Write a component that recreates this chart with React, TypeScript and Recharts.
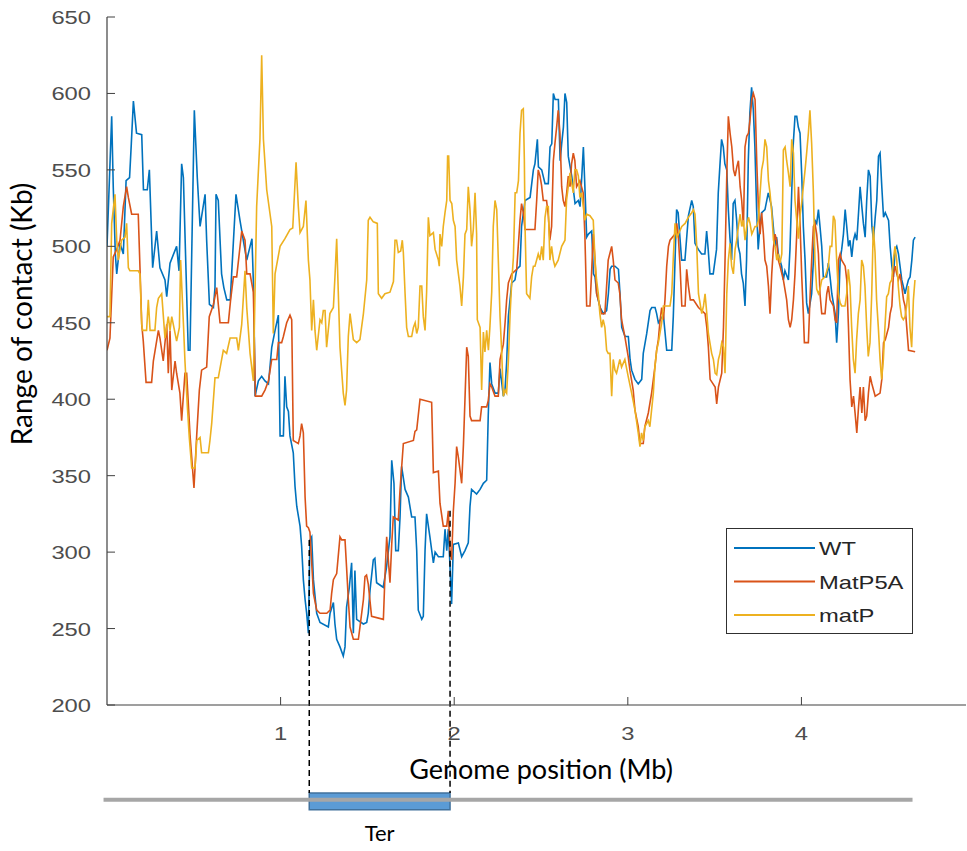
import React from 'react';
import { LineChart, Line, XAxis, YAxis, Legend, ReferenceLine, ReferenceArea } from 'recharts';

type Pt = [number, number];

// genome position (Mb), range of contact (Kb)
const wt: Pt[] = [
  [0.000, 500], [0.027, 585], [0.036, 539], [0.048, 495], [0.056, 482], [0.075, 502], [0.094, 495], [0.110, 543], [0.130, 545], [0.140, 567],
  [0.152, 595], [0.170, 574], [0.200, 573], [0.210, 537], [0.232, 537], [0.244, 550], [0.263, 486], [0.286, 510], [0.305, 486], [0.334, 478],
  [0.344, 467], [0.363, 489], [0.401, 500], [0.415, 484], [0.430, 554], [0.440, 545], [0.468, 432], [0.478, 432], [0.503, 589], [0.520, 545],
  [0.536, 513], [0.565, 534], [0.574, 504], [0.590, 462], [0.613, 460], [0.622, 473], [0.628, 534], [0.641, 530], [0.660, 482], [0.673, 473],
  [0.690, 465], [0.710, 465], [0.718, 482], [0.743, 534], [0.766, 517], [0.785, 504], [0.805, 491], [0.824, 500], [0.835, 505], [0.845, 470],
  [0.853, 402], [0.872, 412], [0.891, 415], [0.910, 412], [0.930, 410], [0.949, 434], [0.968, 445], [0.987, 455], [0.997, 376], [1.016, 376],
  [1.025, 415], [1.035, 395], [1.045, 392], [1.054, 376], [1.073, 365], [1.083, 343], [1.093, 330], [1.112, 317], [1.121, 304], [1.131, 282],
  [1.141, 269], [1.150, 260], [1.160, 247], [1.169, 308], [1.179, 310], [1.189, 282], [1.208, 260], [1.227, 254], [1.275, 251], [1.285, 260],
  [1.304, 267], [1.313, 253], [1.323, 243], [1.342, 238], [1.361, 232], [1.371, 238], [1.380, 264], [1.396, 277], [1.409, 293], [1.419, 247],
  [1.428, 288], [1.438, 256], [1.477, 253], [1.496, 254], [1.505, 260], [1.515, 275], [1.534, 295], [1.543, 296], [1.553, 280], [1.591, 277],
  [1.610, 290], [1.630, 310], [1.640, 360], [1.653, 345], [1.663, 301], [1.678, 301], [1.688, 323], [1.697, 356], [1.717, 341], [1.736, 336],
  [1.755, 323], [1.774, 323], [1.784, 301], [1.793, 262], [1.813, 256], [1.822, 258], [1.832, 301], [1.841, 325], [1.860, 310], [1.880, 293],
  [1.890, 300], [1.909, 297], [1.937, 297], [1.947, 315], [1.957, 301], [1.966, 315], [1.976, 290], [1.985, 266], [1.995, 305], [2.024, 306],
  [2.043, 297], [2.062, 301], [2.081, 306], [2.091, 330], [2.100, 341], [2.129, 338], [2.149, 341], [2.168, 345], [2.187, 347], [2.196, 389],
  [2.206, 424], [2.216, 410], [2.235, 404], [2.254, 404], [2.264, 420], [2.283, 402], [2.292, 405], [2.302, 424], [2.312, 454], [2.331, 476],
  [2.350, 478], [2.360, 485], [2.379, 487], [2.388, 513], [2.408, 530], [2.437, 532], [2.456, 550], [2.465, 554], [2.479, 570], [2.485, 552],
  [2.504, 550], [2.523, 541], [2.542, 541], [2.552, 565], [2.562, 567], [2.571, 600], [2.581, 596], [2.600, 596], [2.610, 556], [2.619, 567],
  [2.629, 578], [2.638, 600], [2.648, 594], [2.657, 559], [2.677, 546], [2.696, 528], [2.715, 530], [2.725, 526], [2.735, 546], [2.744, 565],
  [2.754, 535], [2.763, 506], [2.773, 508], [2.792, 510], [2.802, 482], [2.811, 480], [2.821, 469], [2.840, 460], [2.859, 456], [2.878, 458],
  [2.888, 469], [2.898, 485], [2.907, 487], [2.926, 487], [2.946, 485], [2.955, 469], [2.965, 447], [2.984, 441], [3.003, 441], [3.013, 426],
  [3.022, 419], [3.041, 413], [3.060, 410], [3.080, 413], [3.089, 430], [3.109, 443], [3.128, 458], [3.138, 460], [3.157, 460], [3.166, 456],
  [3.176, 450], [3.205, 455], [3.224, 432], [3.253, 432], [3.262, 454], [3.272, 491], [3.281, 524], [3.290, 522], [3.300, 506], [3.310, 491],
  [3.329, 491], [3.349, 520], [3.368, 530], [3.377, 526], [3.387, 502], [3.406, 498], [3.425, 495], [3.444, 495], [3.454, 510], [3.463, 498],
  [3.473, 482], [3.492, 482], [3.511, 498], [3.521, 535], [3.530, 552], [3.540, 570], [3.550, 565], [3.559, 554], [3.570, 550], [3.579, 524],
  [3.588, 506], [3.598, 491], [3.607, 528], [3.617, 530], [3.627, 517], [3.636, 500], [3.646, 495], [3.655, 482], [3.665, 476], [3.675, 461],
  [3.684, 491], [3.694, 556], [3.703, 587], [3.713, 604], [3.723, 589], [3.732, 565], [3.742, 524], [3.751, 498], [3.761, 513], [3.771, 522],
  [3.790, 524], [3.809, 535], [3.828, 526], [3.838, 513], [3.848, 500], [3.857, 506], [3.867, 495], [3.886, 487], [3.896, 478], [3.905, 484],
  [3.925, 478], [3.934, 498], [3.944, 535], [3.953, 567], [3.963, 585], [3.973, 585], [3.982, 578], [3.992, 574], [4.002, 546], [4.011, 513],
  [4.021, 491], [4.030, 463], [4.040, 456], [4.059, 469], [4.069, 491], [4.078, 517], [4.088, 515], [4.098, 524], [4.107, 513], [4.117, 500],
  [4.126, 480], [4.145, 480], [4.155, 489], [4.165, 480], [4.175, 469], [4.194, 456], [4.203, 437], [4.213, 456], [4.223, 491], [4.232, 498],
  [4.242, 508], [4.252, 524], [4.261, 513], [4.271, 500], [4.280, 504], [4.290, 493], [4.300, 504], [4.309, 508], [4.319, 504], [4.329, 522],
  [4.338, 539], [4.348, 526], [4.357, 515], [4.367, 506], [4.376, 530], [4.386, 550], [4.396, 546], [4.406, 513], [4.415, 504], [4.425, 519],
  [4.434, 530], [4.444, 559], [4.453, 561], [4.463, 539], [4.473, 519], [4.483, 522], [4.502, 517], [4.511, 500], [4.521, 487], [4.530, 480],
  [4.540, 498], [4.549, 500], [4.559, 495], [4.568, 487], [4.578, 478], [4.597, 469], [4.607, 474], [4.616, 478], [4.626, 480], [4.636, 491],
  [4.645, 504], [4.655, 506],
];

const matP5A: Pt[] = [
  [0.000, 432], [0.017, 440], [0.036, 493], [0.056, 498], [0.075, 504], [0.094, 526], [0.113, 539], [0.123, 532], [0.142, 521], [0.180, 521],
  [0.190, 486], [0.200, 449], [0.209, 438], [0.225, 411], [0.257, 411], [0.267, 425], [0.296, 445], [0.305, 440], [0.324, 425], [0.344, 449],
  [0.353, 417], [0.363, 445], [0.373, 406], [0.392, 425], [0.401, 417], [0.420, 404], [0.430, 386], [0.449, 417], [0.459, 417], [0.478, 377],
  [0.501, 342], [0.517, 377], [0.532, 406], [0.545, 419], [0.574, 421], [0.589, 454], [0.613, 462], [0.632, 473], [0.641, 462], [0.651, 450],
  [0.699, 450], [0.712, 465], [0.728, 480], [0.747, 480], [0.776, 510], [0.795, 504], [0.805, 482], [0.824, 482], [0.843, 470], [0.855, 402],
  [0.891, 402], [0.910, 406], [0.930, 412], [0.949, 426], [0.978, 426], [0.987, 437], [1.006, 437], [1.016, 441], [1.035, 450], [1.054, 455],
  [1.064, 452], [1.073, 373], [1.102, 371], [1.112, 376], [1.121, 384], [1.131, 378], [1.141, 336], [1.150, 317], [1.160, 316], [1.169, 313],
  [1.179, 293], [1.189, 273], [1.208, 262], [1.227, 260], [1.266, 260], [1.285, 262], [1.294, 273], [1.304, 282], [1.323, 286], [1.342, 310],
  [1.352, 308], [1.371, 308], [1.380, 290], [1.390, 269], [1.400, 251], [1.419, 243], [1.448, 243], [1.457, 251], [1.477, 269], [1.486, 284],
  [1.495, 285], [1.505, 279], [1.524, 258], [1.592, 256], [1.601, 284], [1.611, 310], [1.630, 280], [1.640, 305], [1.649, 323], [1.678, 321],
  [1.688, 341], [1.707, 371], [1.765, 373], [1.774, 379], [1.784, 380], [1.803, 400], [1.870, 398], [1.880, 352], [1.909, 353], [1.918, 332],
  [1.937, 317], [1.957, 317], [1.966, 327], [1.976, 300], [1.985, 295], [1.995, 327], [2.005, 345], [2.014, 369], [2.024, 362], [2.043, 345],
  [2.053, 370], [2.062, 400], [2.072, 434], [2.081, 428], [2.091, 389], [2.100, 386], [2.149, 386], [2.158, 395], [2.187, 395], [2.196, 399],
  [2.206, 410], [2.216, 408], [2.235, 402], [2.254, 402], [2.264, 426], [2.283, 436], [2.293, 450], [2.302, 465], [2.312, 476], [2.331, 482],
  [2.360, 485], [2.379, 517], [2.388, 528], [2.398, 522], [2.408, 511], [2.465, 511], [2.475, 530], [2.484, 550], [2.494, 546], [2.503, 540],
  [2.513, 530], [2.532, 530], [2.542, 520], [2.551, 504], [2.561, 513], [2.571, 556], [2.580, 567], [2.590, 578], [2.599, 589], [2.609, 574],
  [2.619, 539], [2.628, 530], [2.638, 526], [2.648, 535], [2.657, 546], [2.667, 539], [2.676, 554], [2.686, 561], [2.695, 556], [2.705, 539],
  [2.724, 543], [2.743, 535], [2.753, 506], [2.763, 461], [2.782, 461], [2.791, 482], [2.801, 508], [2.811, 491], [2.820, 469], [2.830, 465],
  [2.849, 456], [2.868, 456], [2.887, 491], [2.907, 500], [2.916, 491], [2.926, 478], [2.945, 476], [2.954, 469], [2.964, 452], [2.983, 441],
  [3.002, 428], [3.012, 419], [3.031, 406], [3.041, 393], [3.060, 382], [3.070, 371], [3.089, 371], [3.098, 382], [3.118, 391], [3.137, 404],
  [3.156, 421], [3.166, 432], [3.176, 439], [3.186, 452], [3.195, 460], [3.205, 452], [3.214, 465], [3.224, 487], [3.234, 500], [3.243, 504],
  [3.272, 508], [3.282, 515], [3.291, 506], [3.301, 487], [3.311, 461], [3.330, 461], [3.339, 485], [3.349, 474], [3.360, 465], [3.378, 465],
  [3.407, 460], [3.445, 456], [3.455, 447], [3.464, 434], [3.474, 413], [3.503, 408], [3.512, 397], [3.522, 408], [3.541, 417], [3.551, 447],
  [3.560, 491], [3.570, 546], [3.579, 585], [3.589, 574], [3.599, 565], [3.609, 550], [3.618, 546], [3.628, 552], [3.637, 556], [3.647, 539],
  [3.656, 530], [3.666, 513], [3.675, 565], [3.685, 572], [3.695, 574], [3.704, 583], [3.714, 596], [3.723, 600], [3.733, 596], [3.743, 554],
  [3.752, 526], [3.762, 508], [3.771, 522], [3.781, 508], [3.790, 491], [3.800, 487], [3.810, 474], [3.819, 456], [3.829, 482], [3.838, 498],
  [3.848, 508], [3.857, 504], [3.867, 491], [3.877, 487], [3.896, 478], [3.915, 465], [3.925, 452], [3.935, 447], [3.944, 452], [3.954, 465],
  [3.963, 482], [3.973, 508], [3.983, 539], [3.992, 515], [4.002, 480], [4.011, 456], [4.017, 437], [4.040, 437], [4.049, 465], [4.059, 491],
  [4.069, 513], [4.078, 515], [4.088, 508], [4.098, 495], [4.107, 469], [4.117, 456], [4.136, 456], [4.146, 469], [4.155, 474], [4.165, 465],
  [4.184, 461], [4.194, 452], [4.203, 450], [4.213, 491], [4.223, 495], [4.232, 491], [4.242, 489], [4.252, 487], [4.261, 478], [4.271, 447],
  [4.280, 413], [4.290, 395], [4.300, 402], [4.309, 391], [4.319, 378], [4.329, 395], [4.338, 408], [4.348, 391], [4.357, 408], [4.367, 386],
  [4.376, 389], [4.386, 404], [4.396, 415], [4.406, 410], [4.425, 402], [4.453, 404], [4.463, 413], [4.473, 437], [4.483, 439], [4.502, 447],
  [4.511, 456], [4.521, 461], [4.530, 482], [4.540, 487], [4.549, 482], [4.559, 478], [4.568, 482], [4.578, 474], [4.588, 465], [4.597, 461],
  [4.617, 432], [4.655, 431],
];

const matP: Pt[] = [
  [0.000, 454], [0.017, 454], [0.027, 515], [0.046, 534], [0.056, 504], [0.065, 491], [0.084, 504], [0.104, 506], [0.113, 515], [0.123, 486],
  [0.132, 484], [0.180, 484], [0.190, 482], [0.200, 449], [0.205, 445], [0.228, 445], [0.238, 465], [0.248, 445], [0.276, 445], [0.286, 460],
  [0.296, 466], [0.315, 469], [0.334, 440], [0.353, 454], [0.363, 445], [0.373, 454], [0.401, 438], [0.417, 447], [0.424, 491], [0.440, 450],
  [0.449, 425], [0.463, 395], [0.474, 375], [0.488, 355], [0.507, 355], [0.517, 373], [0.536, 375], [0.545, 365], [0.584, 365], [0.593, 373],
  [0.603, 384], [0.622, 414], [0.641, 414], [0.670, 432], [0.689, 430], [0.709, 440], [0.747, 440], [0.757, 432], [0.776, 449], [0.795, 484],
  [0.805, 460], [0.824, 430], [0.843, 412], [0.862, 526], [0.881, 570], [0.891, 625], [0.901, 570], [0.920, 537], [0.949, 513], [0.958, 443],
  [0.968, 482], [0.997, 500], [1.025, 505], [1.054, 511], [1.070, 512], [1.089, 555], [1.102, 526], [1.112, 509], [1.131, 513], [1.146, 530],
  [1.160, 491], [1.169, 478], [1.179, 445], [1.189, 465], [1.198, 445], [1.208, 432], [1.227, 452], [1.237, 450], [1.246, 458], [1.256, 458],
  [1.265, 434], [1.284, 456], [1.304, 460], [1.313, 480], [1.323, 505], [1.332, 471], [1.342, 434], [1.361, 404], [1.371, 396], [1.380, 406],
  [1.390, 441], [1.400, 456], [1.419, 439], [1.438, 437], [1.457, 439], [1.477, 456], [1.496, 478], [1.505, 517], [1.515, 519], [1.534, 516],
  [1.557, 515], [1.563, 469], [1.582, 466], [1.601, 469], [1.630, 470], [1.650, 477], [1.659, 504], [1.668, 504], [1.678, 496], [1.692, 497],
  [1.701, 504], [1.707, 496], [1.717, 469], [1.726, 447], [1.736, 441], [1.755, 441], [1.765, 447], [1.775, 450], [1.784, 443], [1.793, 447],
  [1.803, 474], [1.813, 474], [1.822, 454], [1.832, 445], [1.841, 470], [1.851, 519], [1.860, 507], [1.880, 509], [1.890, 498], [1.909, 491],
  [1.914, 487], [1.918, 508], [1.928, 500], [1.937, 513], [1.947, 522], [1.957, 530], [1.962, 559], [1.968, 559], [1.976, 530], [1.986, 528],
  [1.995, 517], [2.005, 513], [2.014, 491], [2.024, 482], [2.033, 474], [2.043, 461], [2.053, 480], [2.062, 508], [2.072, 511], [2.081, 539],
  [2.091, 524], [2.100, 500], [2.110, 511], [2.120, 535], [2.129, 508], [2.133, 452], [2.149, 447], [2.158, 406], [2.168, 444], [2.177, 431],
  [2.187, 445], [2.197, 432], [2.206, 448], [2.216, 470], [2.225, 513], [2.235, 530], [2.245, 524], [2.254, 491], [2.264, 454], [2.273, 432],
  [2.283, 402], [2.293, 406], [2.302, 404], [2.312, 425], [2.322, 456], [2.331, 476], [2.341, 493], [2.351, 535], [2.360, 535], [2.370, 543],
  [2.379, 574], [2.388, 589], [2.398, 590], [2.404, 557], [2.408, 513], [2.417, 469], [2.436, 466], [2.446, 480], [2.456, 487], [2.465, 487],
  [2.484, 495], [2.494, 491], [2.504, 500], [2.513, 491], [2.523, 519], [2.532, 526], [2.542, 526], [2.551, 491], [2.561, 500], [2.571, 491],
  [2.580, 487], [2.599, 491], [2.619, 500], [2.638, 504], [2.647, 530], [2.657, 539], [2.667, 548], [2.686, 535], [2.695, 550], [2.705, 550],
  [2.715, 546], [2.724, 532], [2.734, 535], [2.753, 517], [2.763, 521], [2.782, 520], [2.801, 517], [2.811, 491], [2.820, 478], [2.830, 469],
  [2.839, 456], [2.849, 447], [2.858, 452], [2.868, 447], [2.878, 432], [2.887, 430], [2.897, 430], [2.907, 402], [2.916, 426], [2.926, 419],
  [2.935, 417], [2.954, 426], [2.964, 421], [2.983, 426], [3.002, 415], [3.022, 404], [3.041, 393], [3.060, 378], [3.070, 369], [3.079, 378],
  [3.089, 373], [3.098, 382], [3.118, 386], [3.127, 382], [3.137, 393], [3.147, 404], [3.156, 421], [3.166, 432], [3.176, 437], [3.195, 450],
  [3.205, 461], [3.243, 461], [3.253, 469], [3.263, 495], [3.272, 515], [3.282, 506], [3.291, 508], [3.311, 513], [3.330, 515], [3.349, 519],
  [3.368, 522], [3.378, 524], [3.387, 521], [3.397, 500], [3.407, 469], [3.426, 456], [3.436, 461], [3.445, 469], [3.455, 456], [3.464, 443],
  [3.483, 430], [3.493, 426], [3.503, 417], [3.512, 416], [3.522, 426], [3.531, 430], [3.541, 437], [3.551, 434], [3.560, 417], [3.570, 469],
  [3.579, 491], [3.589, 502], [3.598, 487], [3.608, 482], [3.618, 498], [3.627, 504], [3.637, 513], [3.647, 521], [3.656, 513], [3.666, 517],
  [3.675, 504], [3.685, 513], [3.695, 519], [3.704, 515], [3.714, 508], [3.733, 513], [3.743, 513], [3.752, 517], [3.762, 535], [3.771, 550],
  [3.781, 556], [3.790, 570], [3.800, 565], [3.810, 543], [3.819, 535], [3.829, 522], [3.839, 504], [3.848, 500], [3.858, 491], [3.867, 495],
  [3.877, 489], [3.887, 495], [3.896, 563], [3.906, 565], [3.915, 556], [3.925, 548], [3.935, 539], [3.944, 570], [3.954, 561], [3.963, 530],
  [3.973, 517], [3.983, 505], [3.992, 520], [4.001, 528], [4.011, 539], [4.021, 550], [4.030, 561], [4.040, 574], [4.049, 589], [4.059, 567],
  [4.069, 535], [4.078, 491], [4.088, 472], [4.098, 469], [4.107, 472], [4.117, 478], [4.136, 480], [4.155, 487], [4.165, 500], [4.175, 500],
  [4.184, 520], [4.193, 517], [4.203, 491], [4.213, 469], [4.223, 463], [4.232, 461], [4.251, 461], [4.261, 469], [4.270, 485], [4.280, 474],
  [4.289, 448], [4.299, 426], [4.309, 417], [4.318, 439], [4.328, 456], [4.338, 465], [4.347, 491], [4.357, 487], [4.366, 474], [4.376, 447],
  [4.385, 428], [4.395, 437], [4.405, 469], [4.414, 513], [4.424, 496], [4.433, 465], [4.443, 447], [4.453, 426], [4.462, 413], [4.472, 426],
  [4.481, 447], [4.491, 467], [4.501, 469], [4.510, 476], [4.520, 478], [4.529, 491], [4.539, 500], [4.549, 491], [4.558, 474], [4.568, 461],
  [4.577, 454], [4.587, 452], [4.597, 454], [4.606, 461], [4.616, 474], [4.625, 447], [4.635, 434], [4.645, 465], [4.654, 478],
];

const seriesNames = ['WT', 'MatP5A', 'matP'];
const seriesColors = ['#0072BD', '#D95319', '#EDB120'];
const xTicks = [1, 2, 3, 4];
const yTicks = [200, 250, 300, 350, 400, 450, 500, 550, 600, 650];

// Ter macrodomain (Mb) and the bar drawn under the axis (in y units below the plot)
const terStart = 1.165;
const terEnd = 1.976;
const genomeEnd = 4.64;
const barY = 138;
const boxY = [131.5, 142.5];
const dashTop = [308, 327];

const toRows = (pts: Pt[]) => pts.map(([x, y]) => ({ x, y }));

const tickFont = '"Liberation Sans", Arial, sans-serif';
const labelFont = 'Lato, "Open Sans", sans-serif';

const YTick = (props: any) => {
  const { x, y, payload } = props;
  return (
    <g>
      <line x1={x} x2={x + 8} y1={y} y2={y} stroke="#404040" />
      <text
        transform={`translate(${x - 16},${y + 7}) scale(1.25,1)`}
        textAnchor="end"
        fontSize={19}
        fill="#4d4d4d"
        fontFamily={tickFont}
      >
        {payload.value}
      </text>
    </g>
  );
};

const XTick = (props: any) => {
  const { x, y, payload } = props;
  return (
    <g>
      <line x1={x} x2={x} y1={y} y2={y - 8} stroke="#404040" />
      <text
        transform={`translate(${x},${y + 35}) scale(1.25,1)`}
        textAnchor="middle"
        fontSize={19}
        fill="#4d4d4d"
        fontFamily={tickFont}
      >
        {payload.value}
      </text>
    </g>
  );
};

// legend keeps the plotting order WT, MatP5A, matP
const renderLegend = () => (
  <div style={{ width: 187, height: 106, border: '1.5px solid #303030', background: '#fff', boxSizing: 'border-box' }}>
    <svg width={184} height={103}>
      {seriesNames.map((name, i) => (
        <g key={name}>
          <line x1={7} x2={88} y1={19 + i * 33.5} y2={19 + i * 33.5} stroke={seriesColors[i]} strokeWidth={1.8} />
          <text
            transform={`translate(92,${26 + i * 33.5}) scale(1.25,1)`}
            fontSize={19}
            fill="#262626"
            fontFamily={tickFont}
          >
            {name}
          </text>
        </g>
      ))}
    </svg>
  </div>
);

export default function App() {
  const series = [wt, matP5A, matP];
  return (
    <div style={{ position: 'absolute', left: 0, top: 0, background: '#fff' }}>
      <LineChart width={967} height={851} margin={{ top: 17, right: 1, bottom: 0, left: 0 }}>
        <XAxis
          dataKey="x"
          type="number"
          domain={[0, 4.948]}
          ticks={xTicks}
          tick={<XTick />}
          tickLine={false}
          tickSize={0}
          tickMargin={0}
          height={146}
          axisLine={{ stroke: '#404040', strokeWidth: 1.2 }}
          allowDataOverflow
          label={{
            content: () => (
              <text x={541} y={779} textAnchor="middle" fontSize={27} fill="#000" fontFamily={labelFont}>
                Genome position (Mb)
              </text>
            ),
          }}
        />
        <YAxis
          type="number"
          domain={[200, 650]}
          ticks={yTicks}
          tick={<YTick />}
          tickLine={false}
          tickSize={0}
          tickMargin={0}
          width={107}
          axisLine={{ stroke: '#404040', strokeWidth: 1.2 }}
          allowDataOverflow
          label={{
            content: () => (
              <text
                transform="translate(32,314) rotate(-90)"
                textAnchor="middle"
                fontSize={28}
                fill="#000"
                fontFamily={labelFont}
              >
                Range of contact (Kb)
              </text>
            ),
          }}
        />
        <Legend
          layout="vertical"
          align="center"
          verticalAlign="middle"
          content={renderLegend}
          wrapperStyle={{ left: 726, top: 528, width: 187, height: 106 }}
        />
        {series.map((pts, i) => (
          <Line
            key={seriesNames[i]}
            data={toRows(pts)}
            dataKey="y"
            name={seriesNames[i]}
            stroke={seriesColors[i]}
            strokeWidth={1.6}
            dot={false}
            activeDot={false}
            type="linear"
            isAnimationActive={false}
          />
        ))}
        <ReferenceLine
          segment={[{ x: -0.02, y: barY }, { x: genomeEnd, y: barY }]}
          stroke="#A6A6A6"
          strokeWidth={4}
          ifOverflow="visible"
        />
        <ReferenceArea
          x1={terStart}
          x2={terEnd}
          y1={boxY[0]}
          y2={boxY[1]}
          fill="#5B9BD5"
          fillOpacity={1}
          stroke="#41719C"
          strokeWidth={1.5}
          ifOverflow="visible"
          label={{ value: 'Ter', position: 'bottom', offset: 16, fontSize: 22, fill: '#000', fontFamily: labelFont }}
        />
        <ReferenceLine
          segment={[{ x: terStart, y: dashTop[0] }, { x: terStart, y: boxY[1] }]}
          stroke="#000"
          strokeWidth={1.5}
          strokeDasharray="6 4"
          ifOverflow="visible"
        />
        <ReferenceLine
          segment={[{ x: terEnd, y: dashTop[1] }, { x: terEnd, y: boxY[1] }]}
          stroke="#000"
          strokeWidth={1.5}
          strokeDasharray="6 4"
          ifOverflow="visible"
        />
      </LineChart>
    </div>
  );
}
